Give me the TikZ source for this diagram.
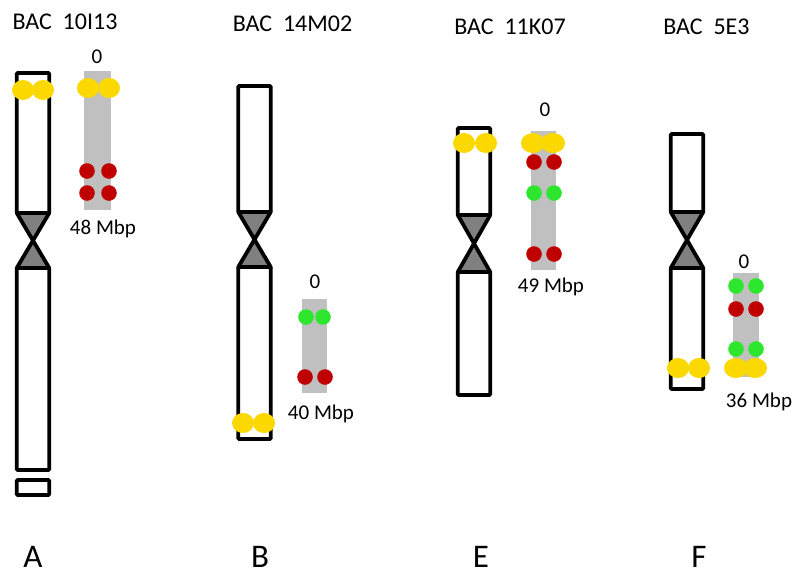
\documentclass[tikz,border=0pt]{standalone}
\usepackage{fontspec}
\setmainfont{Carlito}
\usetikzlibrary{positioning}
\definecolor{cengray}{RGB}{128,128,128}
\definecolor{bargray}{RGB}{192,192,192}
\definecolor{bacyellow}{RGB}{250,216,0}
\definecolor{bacred}{RGB}{192,0,0}
\definecolor{bacgreen}{RGB}{45,230,45}

\begin{document}
\begin{tikzpicture}[x=1pt, y=-1pt,
  arm/.style={draw=black, line width=3.8pt, fill=white, rounded corners=1pt},
  cen/.style={draw=black, line width=3.8pt, fill=cengray, line join=round},
  bar/.style={fill=bargray},
  big/.style={x radius=11pt, y radius=10pt},
  small/.style={x radius=7.8pt, y radius=7.8pt},
  title/.style={font=\fontsize{24}{28}\selectfont, inner sep=0pt},
  tick/.style={font=\fontsize{21}{25}\selectfont, inner sep=0pt},
  panel/.style={font=\fontsize{33}{38}\selectfont, inner sep=0pt, anchor=base}
]
  \useasboundingbox (0,0) rectangle (792,576);

  % chromosomes: centre / top / end of p arm / start of q arm / bottom
  \foreach \c/\t/\p/\q/\b in {33/73/213/268/470, 254.5/86/212/267/439,
                               474/128/215/272/395, 687/134/212/268/389} {
    \draw[cen] (\c-16.25,\p) -- (\c+16.25,\p) -- (\c-16.25,\q) -- (\c+16.25,\q) -- cycle;
    \draw[arm] (\c-16.25,\t) rectangle (\c+16.25,\p);
    \draw[arm] (\c-16.25,\q) rectangle (\c+16.25,\b);
  }
  \draw[arm] (16.75,480) rectangle (49.25,495);

  % BAC maps
  \fill[bar] (84,71) rectangle (111,210);
  \fill[bar] (302,299) rectangle (327,393);
  \fill[bar] (531,131) rectangle (556,270);
  \fill[bar] (733,273) rectangle (759,377);

  % signals
  \foreach \x/\y in {23/90, 43/90, 88/88, 109/88, 243/423, 264/423,
                     464/143, 486/143, 678/368, 699/368}
    \fill[bacyellow] (\x,\y) ellipse [big];
  \foreach \x/\y in {533/143, 553/143, 736/368, 755/368}
    \fill[bacyellow] (\x,\y) ellipse [x radius=12pt, y radius=10pt];
  \foreach \x/\y in {87/171, 109/171, 87/193, 109/193, 305/377, 325/377,
                     534/162, 554/162, 534/254, 554/254, 736/309, 756/309}
    \fill[bacred] (\x,\y) ellipse [small];
  \foreach \x/\y in {306/317, 323/317, 534/193, 554/193,
                     736/286, 756/286, 736/349, 756/349}
    \fill[bacgreen] (\x,\y) ellipse [small];

  % labels
  \node[title] (tA) at (65,22) {BAC~~10I13};
  \node[title] (tB) at (292.5,24) {BAC~~14M02};
  \node[title] (tE) at (510,27) {BAC~~11K07};
  \node[title] (tF) at (706.5,27) {BAC~~5E3};

  \node[tick] (zA) at (97,57) {0};
  \node[tick] (zB) at (315,282) {0};
  \node[tick] (zE) at (545,110) {0};
  \node[tick] (zF) at (744,262) {0};
  \node[tick] (mA) at (103,229) {48 Mbp};
  \node[tick] (mB) at (321,414) {40 Mbp};
  \node[tick] (mE) at (551,287) {49 Mbp};
  \node[tick] (mF) at (759,402) {36 Mbp};

  \node[panel] (pA) at (33,567) {A};
  \node[panel] (pB) at (260,567) {B};
  \node[panel] (pE) at (481,567) {E};
  \node[panel] (pF) at (699,567) {F};
\end{tikzpicture}
\end{document}
